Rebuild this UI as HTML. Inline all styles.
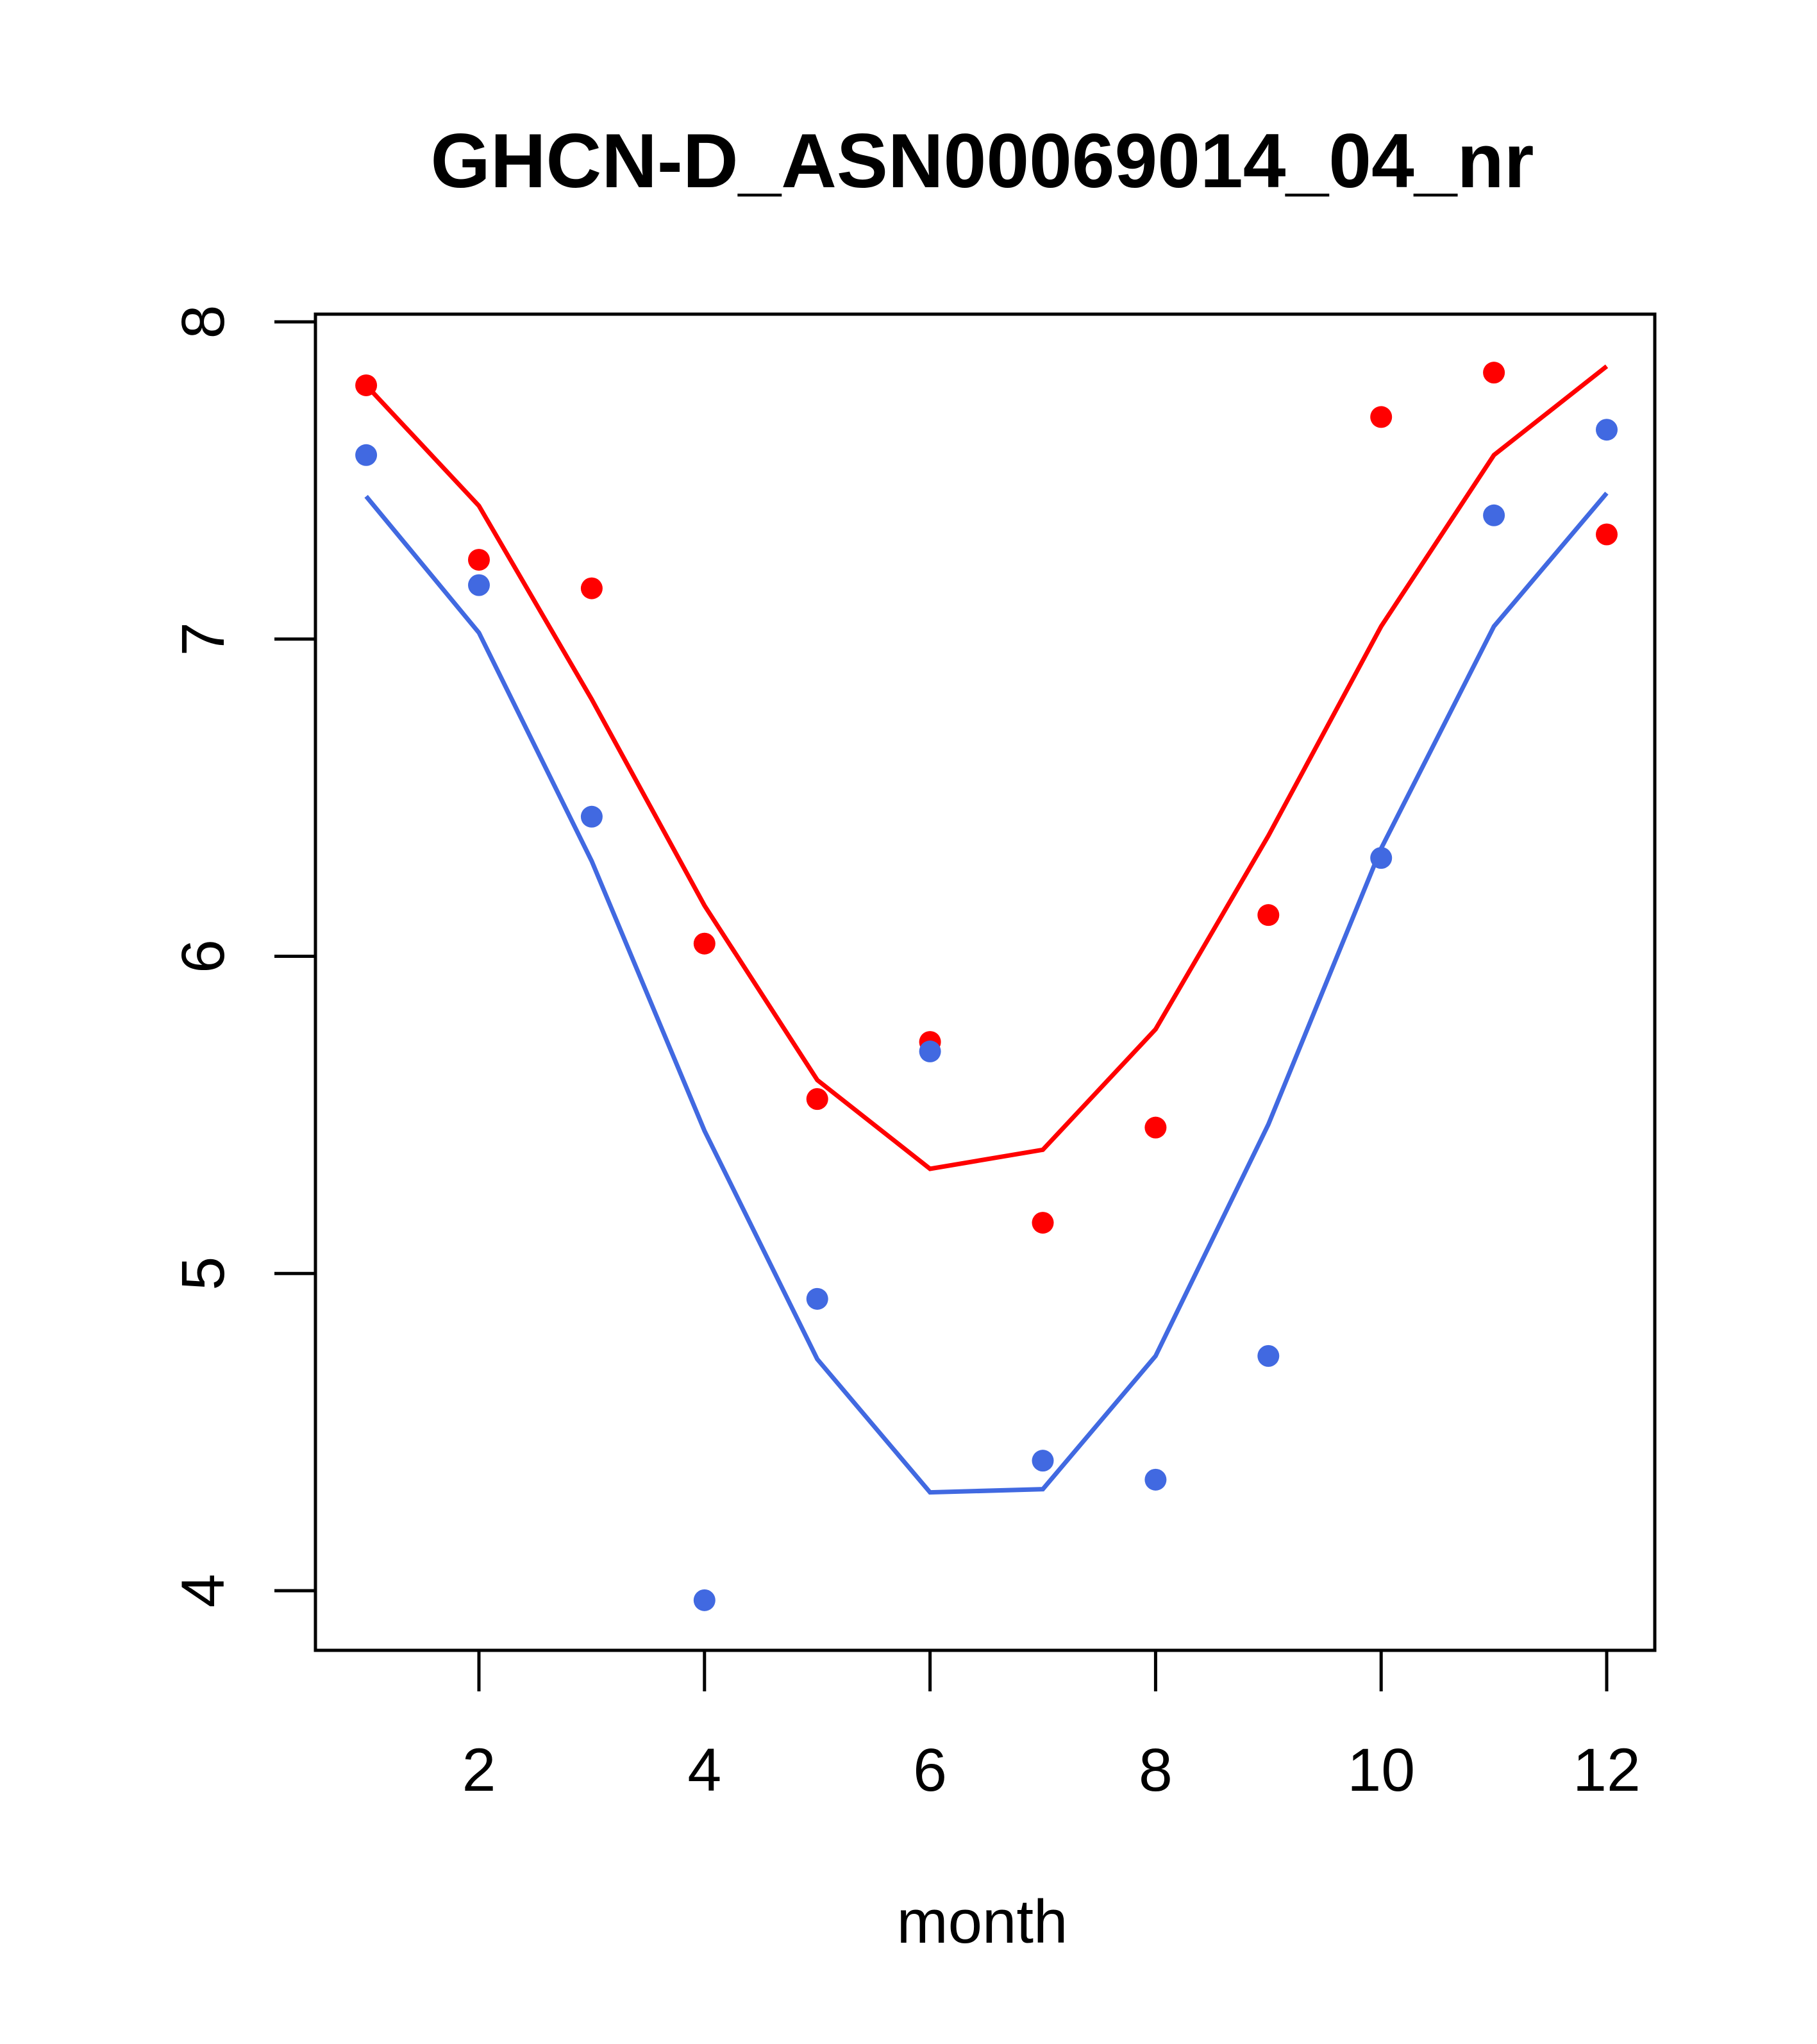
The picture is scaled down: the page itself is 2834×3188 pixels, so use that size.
<!DOCTYPE html>
<html><head><meta charset="utf-8"><style>
html,body{margin:0;padding:0;background:#fff;}
svg{display:block;}
text{font-family:"Liberation Sans",Arial,sans-serif;fill:#000;}
</style></head><body>
<svg id="chart" width="2834" height="3188" viewBox="0 0 2834 3188">
<text x="1532" y="292" font-size="120" font-weight="bold" text-anchor="middle">GHCN-D_ASN00069014_04_nr</text>
<rect x="492" y="490" width="2089" height="2084" fill="none" stroke="#000" stroke-width="5"/>
<g id="xaxis"></g>
<g id="yaxis"></g>
<g id="series"></g>
<text x="1532" y="3030" font-size="96" text-anchor="middle">month</text>
</svg>
<script>
const months=[1,2,3,4,5,6,7,8,9,10,11,12];
const redPoints=[7.80,7.25,7.16,6.04,5.55,5.73,5.16,5.46,6.13,7.70,7.84,7.33];
const redLine=[7.80,7.42,6.81,6.16,5.61,5.33,5.39,5.77,6.38,7.04,7.58,7.86];
const bluePoints=[7.58,7.17,6.44,3.97,4.92,5.70,4.41,4.35,4.74,6.31,7.39,7.66];
const blueLine=[7.45,7.02,6.30,5.45,4.73,4.31,4.32,4.74,5.47,6.34,7.04,7.46];
const xTicks=[2,4,6,8,10,12];
const yTicks=[4,5,6,7,8];
const NS='http://www.w3.org/2000/svg';
function X(m){return 747+(m-2)*(2506-747)/10;}
function Y(v){return 2481-(v-4)*(2481-502)/4;}
function mk(tag,attrs,parent){const e=document.createElementNS(NS,tag);for(const k in attrs)e.setAttribute(k,attrs[k]);parent.appendChild(e);return e;}
const xa=document.getElementById('xaxis'),ya=document.getElementById('yaxis'),sr=document.getElementById('series');
mk('line',{x1:X(2),x2:X(12),y1:2574,y2:2574,stroke:'#000','stroke-width':5},xa);
xTicks.forEach(t=>{
 const l=mk('line',{x1:X(t),x2:X(t),y1:2574,y2:2638,stroke:'#000','stroke-width':5},xa);
 
 
 const tx=mk('text',{x:X(t),y:2793,'font-size':95,'text-anchor':'middle'},xa);
 tx.textContent=t;
 
 
});
mk('line',{x1:492,x2:492,y1:Y(4),y2:Y(8),stroke:'#000','stroke-width':5},ya);
yTicks.forEach(t=>{
 const l=mk('line',{x1:428,x2:492,y1:Y(t),y2:Y(t),stroke:'#000','stroke-width':5},ya);
 
 
 const tx=mk('text',{x:0,y:0,'font-size':95,'text-anchor':'middle',transform:`translate(349,${Y(t)}) rotate(-90)`},ya);
 tx.textContent=t;
 
 
});
function line(vals,color,name){
 const p=mk('polyline',{points:vals.map((v,i)=>X(months[i])+','+Y(v)).join(' '),fill:'none',stroke:color,'stroke-width':7},sr);
 
 
}
function pts(vals,color,name){
 vals.forEach((v,i)=>{
  const c=mk('circle',{cx:X(months[i]),cy:Y(v),r:17,fill:color},sr);
  
  
 });
}
line(redLine,'#ff0000','red-line');
line(blueLine,'#4169e1','blue-line');
pts(redPoints,'#ff0000','red-point');
pts(bluePoints,'#4169e1','blue-point');
</script>
</body></html>
